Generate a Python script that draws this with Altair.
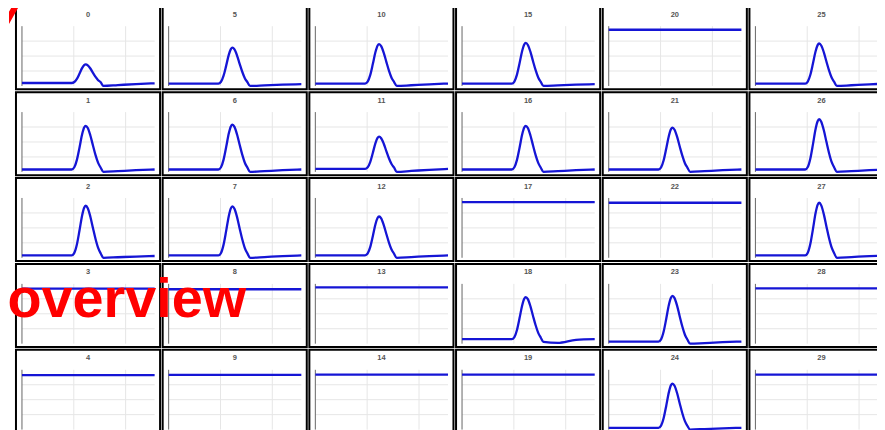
import altair as alt
import pandas as pd

# ---------------- data ----------------
PANEL_IDS = list(range(30))
N_ROWS, N_COLS = 5, 6

# shared x positions of the read-off points for the panels that show a peak
PEAK_X = [0, 40, 96, 101, 106, 111, 116, 120, 123, 127, 132, 137, 142, 147, 152, 157, 185, 220, 256]

PEAK_0 = [0.05, 0.05, 0.05, 0.066, 0.118, 0.205, 0.298, 0.348, 0.36, 0.345, 0.292, 0.22, 0.152, 0.097, 0.062, 0.0, 0.014, 0.032, 0.045]
PEAK_5 = [0.04, 0.04, 0.04, 0.07, 0.172, 0.34, 0.52, 0.616, 0.64, 0.61, 0.508, 0.37, 0.238, 0.13, 0.064, 0.0, 0.009, 0.021, 0.03]
PEAK_10 = [0.04, 0.04, 0.04, 0.073, 0.185, 0.37, 0.568, 0.674, 0.70, 0.667, 0.555, 0.403, 0.258, 0.139, 0.066, 0.0, 0.012, 0.028, 0.04]
PEAK_15 = [0.04, 0.04, 0.04, 0.074, 0.19, 0.38, 0.584, 0.693, 0.72, 0.686, 0.57, 0.414, 0.264, 0.142, 0.067, 0.0, 0.009, 0.021, 0.03]
PEAK_25 = [0.04, 0.04, 0.04, 0.074, 0.187, 0.375, 0.576, 0.683, 0.71, 0.677, 0.563, 0.409, 0.261, 0.141, 0.067, 0.0, 0.012, 0.028, 0.04]
PEAK_1 = [0.04, 0.04, 0.04, 0.077, 0.201, 0.405, 0.624, 0.741, 0.77, 0.734, 0.609, 0.442, 0.281, 0.15, 0.069, 0.0, 0.012, 0.028, 0.04]
PEAK_6 = [0.04, 0.04, 0.04, 0.078, 0.205, 0.415, 0.64, 0.76, 0.79, 0.753, 0.625, 0.453, 0.288, 0.153, 0.07, 0.0, 0.012, 0.028, 0.04]
PEAK_11 = [0.05, 0.05, 0.05, 0.077, 0.169, 0.32, 0.482, 0.568, 0.59, 0.563, 0.471, 0.347, 0.228, 0.131, 0.072, 0.0, 0.015, 0.035, 0.05]
PEAK_16 = [0.04, 0.04, 0.04, 0.077, 0.201, 0.405, 0.624, 0.741, 0.77, 0.734, 0.609, 0.442, 0.281, 0.15, 0.069, 0.0, 0.012, 0.028, 0.04]
PEAK_21 = [0.04, 0.04, 0.04, 0.075, 0.194, 0.39, 0.60, 0.712, 0.74, 0.705, 0.586, 0.425, 0.271, 0.145, 0.068, 0.0, 0.012, 0.028, 0.04]
PEAK_26 = [0.04, 0.04, 0.04, 0.082, 0.225, 0.46, 0.712, 0.846, 0.88, 0.838, 0.695, 0.502, 0.317, 0.166, 0.074, 0.0, 0.012, 0.028, 0.04]
PEAK_2 = [0.04, 0.04, 0.04, 0.082, 0.223, 0.455, 0.704, 0.837, 0.87, 0.829, 0.687, 0.497, 0.314, 0.165, 0.073, 0.0, 0.009, 0.021, 0.03]
PEAK_7 = [0.04, 0.04, 0.04, 0.081, 0.22, 0.45, 0.696, 0.827, 0.86, 0.819, 0.68, 0.491, 0.311, 0.163, 0.073, 0.0, 0.012, 0.028, 0.04]
PEAK_12 = [0.04, 0.04, 0.04, 0.073, 0.183, 0.365, 0.56, 0.664, 0.69, 0.658, 0.547, 0.398, 0.255, 0.138, 0.066, 0.0, 0.012, 0.028, 0.04]
PEAK_27 = [0.04, 0.04, 0.04, 0.084, 0.234, 0.48, 0.744, 0.885, 0.92, 0.876, 0.726, 0.524, 0.33, 0.172, 0.075, 0.0, 0.012, 0.028, 0.04]
PEAK_18 = [0.075, 0.075, 0.075, 0.11, 0.23, 0.428, 0.639, 0.752, 0.78, 0.745, 0.625, 0.463, 0.308, 0.181, 0.10, 0.03, 0.015, 0.065, 0.075]
PEAK_23 = [0.035, 0.035, 0.035, 0.073, 0.203, 0.418, 0.647, 0.769, 0.80, 0.762, 0.632, 0.456, 0.287, 0.15, 0.066, 0.0, 0.011, 0.025, 0.035]
PEAK_24 = [0.03, 0.03, 0.03, 0.067, 0.193, 0.40, 0.622, 0.74, 0.77, 0.733, 0.607, 0.437, 0.274, 0.141, 0.06, 0.0, 0.009, 0.021, 0.03]

PEAK_SERIES = {
    0: PEAK_0, 5: PEAK_5, 10: PEAK_10, 15: PEAK_15, 25: PEAK_25,
    1: PEAK_1, 6: PEAK_6, 11: PEAK_11, 16: PEAK_16, 21: PEAK_21, 26: PEAK_26,
    2: PEAK_2, 7: PEAK_7, 12: PEAK_12, 27: PEAK_27,
    18: PEAK_18, 23: PEAK_23, 24: PEAK_24,
}

# panels whose line is flat
FLAT_X = [0, 256]
FLAT_LEVEL = {20: 0.94, 17: 0.93, 22: 0.92, 3: 0.92, 8: 0.91, 13: 0.94,
              28: 0.925, 4: 0.91, 9: 0.915, 14: 0.92, 19: 0.92, 29: 0.92}

GRID_X = [100, 200]
GRID_Y = [0.25, 0.5, 0.75]
AXIS_Y = [0, 1]
LINE_X_RANGE = [0, 256]

OVERLAY_LABEL = "overview"
# red stroke in the top-left corner (pixel outline, relative to first panel)
DIAG_PX = [-7.0, -3.3, 3.6]
DIAG_TOP = [5.6, -1.0, -1.0]
DIAG_BOTTOM = [17.8, 11.2, -1.0]

# ---------------- styling / layout ----------------
W, H = 144.6, 83.3
SPACING = 2.2
X_DOMAIN = [-11.54, 266.5]
Y_DOMAIN = [-0.055, 1.3333]
LINE_COLOR = "#1515d5"
GRID_COLOR = "#e6e6e6"
AXIS_COLOR = "#666666"


def panel_chart(i):
    xs = alt.Scale(domain=X_DOMAIN, nice=False, zero=False)
    ys = alt.Scale(domain=Y_DOMAIN, nice=False, zero=False)

    if i in PEAK_SERIES:
        line_df = pd.DataFrame({"x": PEAK_X, "y": PEAK_SERIES[i]})
    else:
        line_df = pd.DataFrame({"x": FLAT_X, "y": [FLAT_LEVEL[i]] * len(FLAT_X)})

    vgrid_df = pd.DataFrame({"x": GRID_X, "y0": [AXIS_Y[0]] * len(GRID_X), "y1": [AXIS_Y[1]] * len(GRID_X)})
    hgrid_df = pd.DataFrame({"y": GRID_Y, "x0": [LINE_X_RANGE[0]] * len(GRID_Y), "x1": [LINE_X_RANGE[1]] * len(GRID_Y)})
    axis_df = pd.DataFrame({"x": [0], "y0": [AXIS_Y[0]], "y1": [AXIS_Y[1]]})

    vg = alt.Chart(vgrid_df).mark_rule(color=GRID_COLOR, strokeWidth=1).encode(
        x=alt.X("x:Q", scale=xs, axis=None),
        y=alt.Y("y0:Q", scale=ys, axis=None),
        y2="y1:Q",
    )
    hg = alt.Chart(hgrid_df).mark_rule(color=GRID_COLOR, strokeWidth=1).encode(
        y=alt.Y("y:Q", scale=ys, axis=None),
        x=alt.X("x0:Q", scale=xs, axis=None),
        x2="x1:Q",
    )
    ax = alt.Chart(axis_df).mark_rule(color=AXIS_COLOR, strokeWidth=1).encode(
        x=alt.X("x:Q", scale=xs, axis=None),
        y=alt.Y("y0:Q", scale=ys, axis=None),
        y2="y1:Q",
    )
    ln = alt.Chart(line_df).mark_line(color=LINE_COLOR, strokeWidth=2.3, interpolate="monotone").encode(
        x=alt.X("x:Q", scale=xs, axis=None),
        y=alt.Y("y:Q", scale=ys, axis=None),
    )
    tt = alt.Chart(pd.DataFrame({"t": [str(i)]})).mark_text(
        font="Liberation Sans", fontSize=7.5, fontWeight="bold", color="#555555",
        align="center", baseline="middle",
    ).encode(x=alt.value(W / 2), y=alt.value(8.5), text="t:N")

    layers = [vg, hg, ax, ln, tt]
    resolve = False
    if i == 0:
        diag_df = pd.DataFrame({"px": DIAG_PX, "py": DIAG_TOP, "py2": DIAG_BOTTOM})
        diag = alt.Chart(diag_df).mark_area(color="#ff0000", opacity=1, clip=False).encode(
            x=alt.X("px:Q", scale=None, axis=None),
            y=alt.Y("py:Q", scale=None, axis=None),
            y2="py2:Q",
        )
        layers.append(diag)
        resolve = True
    if i == 9:
        label = alt.Chart(pd.DataFrame({"t": [OVERLAY_LABEL]})).mark_text(
            font="Liberation Sans", fontSize=56, fontWeight="bold", color="#ff0000",
            align="left", baseline="alphabetic", clip=False,
        ).encode(x=alt.value(-155.8), y=alt.value(-32.5), text="t:N")
        layers.append(label)

    chart = alt.layer(*layers).properties(width=W, height=H)
    if resolve:
        chart = chart.resolve_scale(x="independent", y="independent")
    return chart


charts = []
for r in range(N_ROWS):
    for c in range(N_COLS):
        charts.append(panel_chart(c * N_ROWS + r))

chart = alt.concat(
    *charts,
    columns=N_COLS,
    spacing=SPACING,
    bounds="flush",
).properties(
    padding={"left": -2, "top": -4.5, "right": -18, "bottom": 0},
    background="white",
).configure_view(
    stroke="black", strokeWidth=2
)

chart.save("out.html", embed_options={"renderer": "svg", "actions": False})
